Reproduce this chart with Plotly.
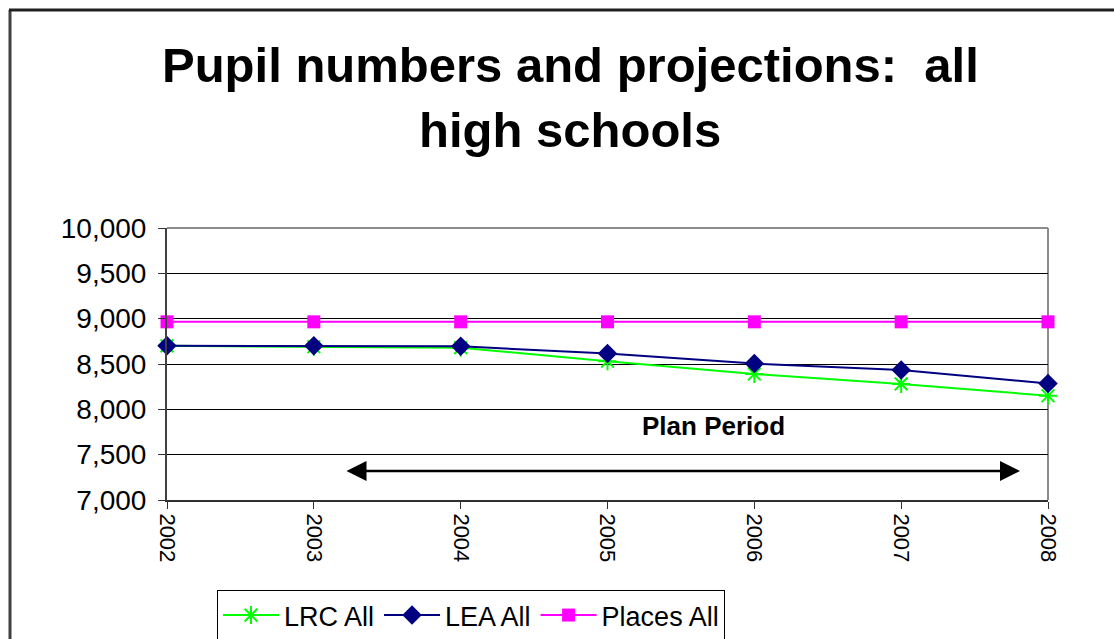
import plotly.graph_objects as go

# Pupil numbers by year
years = [2002, 2003, 2004, 2005, 2006, 2007, 2008]
lrc_all = [8700, 8690, 8680, 8530, 8390, 8280, 8150]
lea_all = [8700, 8700, 8695, 8615, 8505, 8435, 8285]
places_all = [8965, 8965, 8965, 8965, 8965, 8965, 8965]
y_ticks = [7000, 7500, 8000, 8500, 9000, 9500, 10000]

W, H = 1114, 639
L, R, T, B = 167, 1048, 228, 500  # plot area edges in pixels


def px(x):
    return (x - L) / (R - L)


def py(y):
    return (B - y) / (B - T)


FONT = "Liberation Sans, Arial, sans-serif"

fig = go.Figure()
fig.add_trace(go.Scatter(
    x=years, y=lrc_all, name="LRC All", mode="lines+markers",
    line=dict(color="#00FF00", width=2),
    marker=dict(symbol="asterisk-open", size=15, color="#00FF00",
                line=dict(color="#00FF00", width=2)),
    cliponaxis=False,
))
fig.add_trace(go.Scatter(
    x=years, y=lea_all, name="LEA All", mode="lines+markers",
    line=dict(color="#000080", width=2),
    marker=dict(symbol="diamond", size=15, color="#000080"),
    cliponaxis=False,
))
fig.add_trace(go.Scatter(
    x=years, y=places_all, name="Places All", mode="lines+markers",
    line=dict(color="#FF00FF", width=2),
    marker=dict(symbol="square", size=13, color="#FF00FF"),
    cliponaxis=False,
))

shapes = [
    # outer chart frame (left and top edges)
    dict(type="line", xref="paper", yref="paper", x0=px(10), x1=px(10),
         y0=py(H + 5), y1=py(10), line=dict(color="#404040", width=3)),
    dict(type="line", xref="paper", yref="paper", x0=px(9), x1=px(W + 5),
         y0=py(10), y1=py(10), line=dict(color="#202020", width=3)),
    # plot area border (top and right)
    dict(type="line", xref="paper", yref="paper", x0=0, x1=1, y0=1, y1=1,
         line=dict(color="#8c8c8c", width=2), layer="below"),
    dict(type="line", xref="paper", yref="paper", x0=1, x1=1, y0=0, y1=1,
         line=dict(color="#8c8c8c", width=2), layer="below"),
]

annotations = [
    dict(text="<b>Pupil numbers and projections:  all</b>", xref="paper", yref="paper",
         x=px(570), y=py(65), showarrow=False, font=dict(family=FONT, size=49, color="black"),
         xanchor="center", yanchor="middle"),
    dict(text="<b>high schools</b>", xref="paper", yref="paper",
         x=px(570), y=py(130), showarrow=False, font=dict(family=FONT, size=49, color="black"),
         xanchor="center", yanchor="middle"),
    dict(text="<b>Plan Period</b>", xref="paper", yref="paper",
         x=px(713), y=py(426), showarrow=False, font=dict(family=FONT, size=26, color="black"),
         xanchor="center", yanchor="middle"),
    dict(text="", xref="x domain", yref="y domain", axref="x domain", ayref="y domain",
         x=px(1020), y=py(471), ax=px(345), ay=py(471), showarrow=True,
         arrowside="end+start", arrowhead=2, arrowsize=1.6, arrowwidth=2.5,
         arrowcolor="black"),
]

fig.update_layout(
    width=W, height=H,
    margin=dict(l=L, r=W - R, t=T, b=H - B, autoexpand=False),
    paper_bgcolor="white", plot_bgcolor="white",
    font=dict(family=FONT, color="black"),
    showlegend=True,
    legend=dict(orientation="h", x=px(217), y=py(590), xanchor="left", yanchor="top",
                bordercolor="black", borderwidth=1, bgcolor="white",
                font=dict(family=FONT, size=27, color="black"),
                itemwidth=56, tracegroupgap=0),
    shapes=shapes,
    annotations=annotations,
    xaxis=dict(range=[2002, 2008], tickmode="array", tickvals=years,
               ticktext=[str(y) for y in years], tickangle=90,
               tickfont=dict(family=FONT, size=22, color="black"),
               showgrid=False, zeroline=False, showline=True, linecolor="#303030",
               linewidth=2, ticks="outside", ticklen=7, tickcolor="#303030",
               fixedrange=True),
    yaxis=dict(range=[7000, 10000], tickmode="array", tickvals=y_ticks,
               ticktext=[f"{v:,}" for v in y_ticks],
               tickfont=dict(family=FONT, size=28, color="black"),
               showgrid=True, gridcolor="black", gridwidth=1, zeroline=False,
               showline=True, linecolor="#404040", linewidth=2,
               ticks="outside", ticklen=7, tickcolor="#303030",
               ticklabelstandoff=6, fixedrange=True),
)

fig.write_html("out.html")
